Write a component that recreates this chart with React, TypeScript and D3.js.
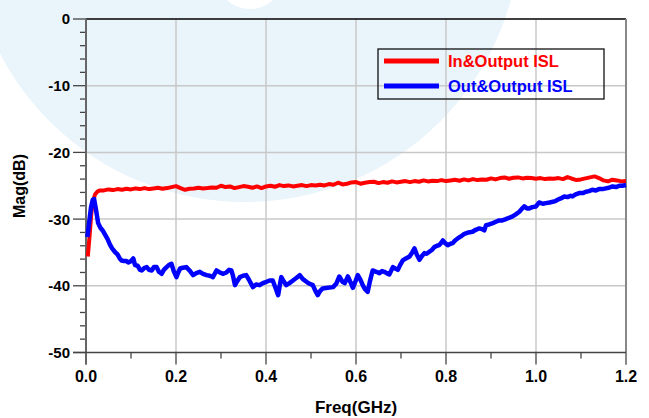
import React, { useEffect, useRef } from 'react';
import * as d3 from 'd3';

// In&Output ISL (red) - [freq GHz, dB]
const inOutIsl: [number, number][] = [
  [0.004, -35.6], [0.008, -32.5], [0.012, -29.0], [0.016, -27.3], [0.02, -26.3], [0.025, -25.9], [0.03, -25.7],
  [0.04, -25.7], [0.05, -25.55], [0.06, -25.65], [0.07, -25.5], [0.08, -25.6], [0.09, -25.45], [0.1, -25.55],
  [0.11, -25.4], [0.12, -25.5], [0.13, -25.35], [0.14, -25.5], [0.15, -25.4], [0.16, -25.3], [0.17, -25.45],
  [0.18, -25.35], [0.19, -25.2], [0.2, -25.05], [0.21, -25.35], [0.22, -25.6], [0.23, -25.45], [0.24, -25.4],
  [0.25, -25.3], [0.26, -25.4], [0.27, -25.35], [0.28, -25.25], [0.29, -25.3], [0.3, -25.0], [0.31, -25.2],
  [0.32, -25.1], [0.33, -25.35], [0.34, -25.2], [0.35, -25.05], [0.36, -25.15], [0.37, -25.3], [0.38, -25.1],
  [0.39, -25.35], [0.4, -25.1], [0.41, -25.0], [0.42, -25.15], [0.43, -24.9], [0.44, -25.05], [0.45, -24.95],
  [0.46, -25.1], [0.47, -25.0], [0.48, -24.9], [0.49, -25.05], [0.5, -24.9], [0.51, -24.95], [0.52, -24.85],
  [0.53, -24.95], [0.54, -24.75], [0.55, -24.85], [0.56, -24.55], [0.57, -24.8], [0.58, -24.7], [0.59, -24.5],
  [0.6, -24.45], [0.61, -24.7], [0.62, -24.55], [0.63, -24.45], [0.64, -24.4], [0.65, -24.6], [0.66, -24.45],
  [0.67, -24.55], [0.68, -24.35], [0.69, -24.5], [0.7, -24.4], [0.71, -24.3], [0.72, -24.45], [0.73, -24.3],
  [0.74, -24.4], [0.75, -24.2], [0.76, -24.35], [0.77, -24.25], [0.78, -24.3], [0.79, -24.15], [0.8, -24.3],
  [0.81, -24.2], [0.82, -24.1], [0.83, -24.25], [0.84, -24.05], [0.85, -24.2], [0.86, -24.0], [0.87, -24.15],
  [0.88, -24.05], [0.89, -24.1], [0.9, -23.9], [0.91, -24.05], [0.92, -23.85], [0.93, -23.75], [0.94, -23.95],
  [0.95, -23.8], [0.96, -23.75], [0.97, -23.9], [0.98, -23.8], [0.99, -23.85], [1.0, -23.95], [1.01, -23.85],
  [1.02, -24.0], [1.03, -23.9], [1.04, -23.95], [1.05, -23.85], [1.06, -24.0], [1.07, -23.7], [1.08, -23.95],
  [1.09, -24.15], [1.1, -24.05], [1.11, -23.9], [1.12, -23.75], [1.13, -23.6], [1.14, -23.85], [1.15, -24.2],
  [1.16, -24.35], [1.17, -24.1], [1.18, -24.2], [1.19, -24.35], [1.2, -24.3],
];

// Out&Output ISL (blue)
const outOutIsl: [number, number][] = [
  [0.003, -32.7], [0.007, -30.5], [0.011, -28.3], [0.015, -27.1], [0.018, -27.0], [0.022, -28.5], [0.027, -30.6],
  [0.032, -31.3], [0.037, -31.7], [0.042, -32.3], [0.048, -33.0], [0.053, -33.8], [0.058, -34.4], [0.064, -34.9],
  [0.07, -35.3], [0.075, -35.9], [0.079, -36.2], [0.085, -36.3], [0.09, -36.3], [0.094, -36.5], [0.1, -36.3],
  [0.105, -35.9], [0.109, -36.9], [0.115, -37.0], [0.12, -37.6], [0.124, -37.7], [0.13, -37.3], [0.135, -37.2],
  [0.14, -37.6], [0.146, -37.7], [0.151, -37.2], [0.157, -37.2], [0.162, -37.9], [0.168, -38.2], [0.173, -37.6],
  [0.179, -37.2], [0.184, -36.9], [0.19, -36.7], [0.195, -37.8], [0.201, -38.7], [0.205, -38.0], [0.209, -37.4],
  [0.215, -37.3], [0.223, -37.2], [0.23, -37.7], [0.238, -38.4], [0.245, -38.1], [0.253, -37.9], [0.26, -38.2],
  [0.268, -38.4], [0.275, -38.5], [0.282, -38.7], [0.29, -37.7], [0.297, -38.0], [0.305, -38.2], [0.312, -38.0],
  [0.318, -37.6], [0.323, -37.7], [0.327, -38.6], [0.331, -39.9], [0.336, -39.3], [0.342, -38.7], [0.349, -38.5],
  [0.356, -38.4], [0.363, -39.2], [0.371, -40.2], [0.378, -39.8], [0.386, -39.9], [0.393, -39.6], [0.401, -39.4],
  [0.408, -39.2], [0.415, -39.2], [0.421, -40.3], [0.427, -41.4], [0.431, -39.8], [0.434, -38.7], [0.44, -39.4],
  [0.445, -39.9], [0.452, -39.6], [0.46, -39.2], [0.468, -38.8], [0.475, -38.4], [0.482, -39.0], [0.49, -39.4],
  [0.497, -39.7], [0.504, -39.9], [0.51, -40.8], [0.515, -41.4], [0.52, -40.8], [0.526, -40.4], [0.537, -40.3],
  [0.549, -40.2], [0.556, -39.7], [0.563, -38.6], [0.57, -39.4], [0.575, -39.6], [0.582, -38.6], [0.588, -39.5],
  [0.593, -40.3], [0.599, -39.3], [0.604, -38.4], [0.61, -39.1], [0.615, -39.9], [0.62, -40.5], [0.626, -40.9],
  [0.631, -39.3], [0.637, -37.7], [0.645, -37.9], [0.652, -38.1], [0.658, -37.8], [0.663, -37.9], [0.668, -38.1],
  [0.674, -38.3], [0.682, -37.2], [0.687, -37.4], [0.693, -37.6], [0.698, -36.9], [0.704, -36.2], [0.711, -35.9],
  [0.719, -35.6], [0.725, -35.0], [0.73, -34.4], [0.735, -35.3], [0.741, -36.1], [0.747, -35.5], [0.752, -35.1],
  [0.757, -35.2], [0.763, -34.9], [0.769, -34.6], [0.774, -34.2], [0.78, -34.0], [0.785, -33.9], [0.79, -33.5],
  [0.793, -33.2], [0.798, -33.6], [0.804, -33.9], [0.81, -33.7], [0.815, -33.6], [0.82, -33.2], [0.826, -32.9],
  [0.833, -32.6], [0.841, -32.2], [0.85, -32.0], [0.859, -31.9], [0.866, -31.6], [0.874, -31.4], [0.88, -31.5],
  [0.885, -31.7], [0.889, -30.9], [0.896, -30.8], [0.904, -30.6], [0.911, -30.4], [0.918, -30.2], [0.925, -30.2],
  [0.933, -30.0], [0.94, -29.8], [0.948, -29.6], [0.955, -29.3], [0.963, -28.9], [0.968, -28.5], [0.974, -28.1],
  [0.98, -28.4], [0.985, -28.4], [0.992, -28.2], [1.0, -28.1], [1.007, -27.5], [1.015, -27.7], [1.022, -27.6],
  [1.03, -27.5], [1.037, -27.4], [1.043, -27.3], [1.048, -27.1], [1.055, -26.9], [1.063, -26.6], [1.07, -26.7],
  [1.077, -26.5], [1.081, -26.6], [1.088, -26.3], [1.096, -26.1], [1.104, -26.1], [1.111, -25.9], [1.118, -25.8],
  [1.125, -25.6], [1.133, -25.7], [1.14, -25.5], [1.148, -25.5], [1.155, -25.4], [1.162, -25.3], [1.17, -25.1],
  [1.178, -25.2], [1.185, -25.0], [1.192, -25.0], [1.2, -24.9],
];

const xTicks = [0, 0.2, 0.4, 0.6, 0.8, 1.0, 1.2];
const yTicks = [0, -10, -20, -30, -40, -50];
const seriesNames = ['In&Output ISL', 'Out&Output ISL'];
const seriesColors = ['#ff0000', '#0000ff'];

const FONT = '"Liberation Sans", Arial, sans-serif';

const App = () => {
  const ref = useRef<SVGSVGElement>(null);

  useEffect(() => {
    const svg = d3.select(ref.current);
    svg.selectAll('*').remove();

    const left = 86, right = 626, top = 19, bottom = 352.5;
    const x = d3.scaleLinear().domain([0, 1.2]).range([left, right]);
    const y = d3.scaleLinear().domain([0, -50]).range([top, bottom]);

    // faint watermark in the background
    svg.append('ellipse')
      .attr('cx', 245).attr('cy', -70).attr('rx', 275).attr('ry', 272)
      .attr('fill', '#eaf4fb');
    svg.append('circle')
      .attr('cx', 250).attr('cy', -25).attr('r', 34)
      .attr('fill', '#fff');

    // grid
    const grid = svg.append('g').attr('stroke', '#c8c8c8').attr('stroke-width', 1.5);
    xTicks.slice(1, -1).forEach(t => {
      grid.append('line').attr('x1', x(t)).attr('x2', x(t)).attr('y1', top).attr('y2', bottom);
    });
    yTicks.slice(1, -1).forEach(t => {
      grid.append('line').attr('x1', left).attr('x2', right).attr('y1', y(t)).attr('y2', y(t));
    });

    // ticks
    const ticks = svg.append('g').attr('stroke', '#444').attr('stroke-width', 1.3);
    d3.range(0, 1.2001, 0.1).forEach((t, i) => {
      const len = i % 2 === 0 ? 12 : 6;
      ticks.append('line').attr('x1', x(t)).attr('x2', x(t)).attr('y1', bottom).attr('y2', bottom + len);
    });
    d3.range(0, -50.001, -2).forEach((t, i) => {
      const len = i % 5 === 0 ? 13 : 6;
      ticks.append('line').attr('x1', left - len).attr('x2', left).attr('y1', y(t)).attr('y2', y(t));
    });

    // frame
    svg.append('line').attr('x1', left).attr('x2', right).attr('y1', top).attr('y2', top)
      .attr('stroke', '#000').attr('stroke-width', 1.5);
    svg.append('line').attr('x1', right).attr('x2', right).attr('y1', top).attr('y2', bottom + 12)
      .attr('stroke', '#888').attr('stroke-width', 2);
    svg.append('line').attr('x1', left).attr('x2', left).attr('y1', top).attr('y2', bottom + 12)
      .attr('stroke', '#666').attr('stroke-width', 2);
    svg.append('line').attr('x1', left - 13).attr('x2', right).attr('y1', bottom).attr('y2', bottom)
      .attr('stroke', '#444').attr('stroke-width', 1.5);

    // tick labels
    svg.append('g').selectAll('text').data(yTicks).join('text')
      .attr('x', 70).attr('y', d => y(d)).attr('dy', '0.36em')
      .attr('text-anchor', 'end')
      .attr('font-family', FONT).attr('font-weight', 'bold').attr('font-size', 15)
      .text(d => d3.format('d')(d).replace('−', '-'));
    svg.append('g').selectAll('text').data(xTicks).join('text')
      .attr('x', d => x(d)).attr('y', 382)
      .attr('text-anchor', 'middle')
      .attr('font-family', FONT).attr('font-weight', 'bold').attr('font-size', 16)
      .text(d => d3.format('.1f')(d));

    // axis titles
    svg.append('text')
      .attr('transform', 'translate(25,186) rotate(-90)')
      .attr('text-anchor', 'middle')
      .attr('font-family', FONT).attr('font-weight', 'bold').attr('font-size', 16)
      .text('Mag(dB)');
    svg.append('text')
      .attr('x', 356).attr('y', 412.5)
      .attr('text-anchor', 'middle')
      .attr('font-family', FONT).attr('font-weight', 'bold').attr('font-size', 17)
      .text('Freq(GHz)');

    // lines
    const line = d3.line<[number, number]>().x(d => x(d[0])).y(d => y(d[1]));
    [inOutIsl, outOutIsl].forEach((s, i) => {
      svg.append('path')
        .attr('d', line(s))
        .attr('fill', 'none')
        .attr('stroke', seriesColors[i])
        .attr('stroke-width', i === 0 ? 4 : 4.5)
        .attr('stroke-linejoin', 'round');
    });

    // legend
    const lg = svg.append('g');
    lg.append('rect').attr('x', 378).attr('y', 49).attr('width', 226).attr('height', 50)
      .attr('fill', 'none').attr('stroke', '#111').attr('stroke-width', 1.3);
    seriesNames.forEach((name, i) => {
      const ly = 61 + i * 25;
      lg.append('line').attr('x1', 384).attr('x2', 439).attr('y1', ly).attr('y2', ly)
        .attr('stroke', seriesColors[i]).attr('stroke-width', 5);
      lg.append('text').attr('x', 448).attr('y', ly).attr('dy', '0.36em')
        .attr('fill', seriesColors[i])
        .attr('font-family', FONT).attr('font-weight', 'bold').attr('font-size', 16.5)
        .text(name);
    });
  }, []);

  return (
    <svg ref={ref} width={649} height={418}
      style={{ position: 'absolute', left: 0, top: 0, background: '#fff' }} />
  );
};

export default App;
